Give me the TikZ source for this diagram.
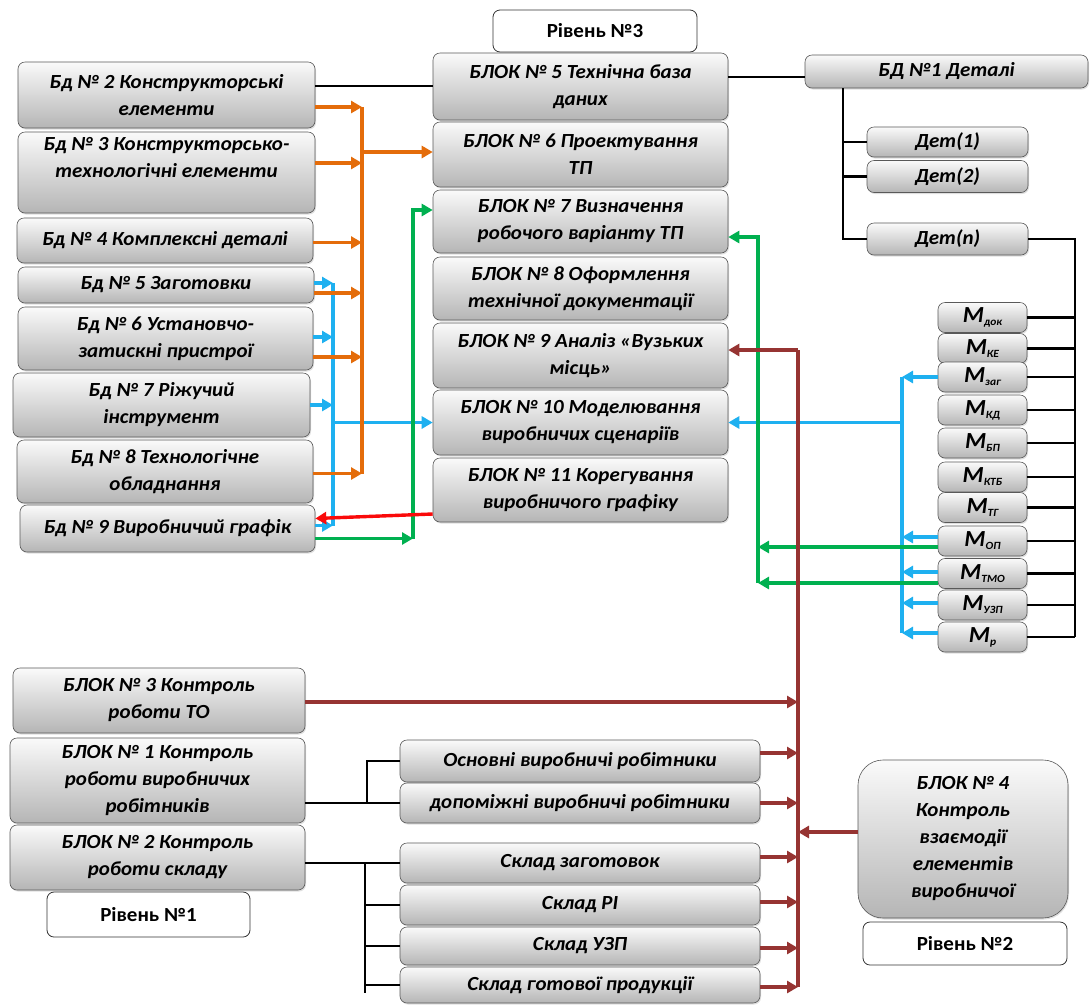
\documentclass[tikz,border=0pt]{standalone}
\usepackage{fontspec}
\setmainfont{Carlito}[FakeStretch=1.05]
\usetikzlibrary{arrows.meta,shadows}
\definecolor{cOr}{RGB}{228,108,10}
\definecolor{cBl}{RGB}{30,176,240}
\definecolor{cGr}{RGB}{0,176,80}
\definecolor{cRd}{RGB}{250,10,10}
\definecolor{cBr}{RGB}{150,52,50}
\begin{document}
\begin{tikzpicture}[x=1pt,y=-1pt,
  box/.style={draw=gray!70!black, line width=0.6pt, rounded corners=7pt,
    top color=gray!4, middle color=gray!22, bottom color=gray!58,
    inner sep=0pt, align=center,
    font=\fontsize{20}{27}\selectfont\bfseries\itshape,
    drop shadow={opacity=0.25,shadow xshift=1pt,shadow yshift=-1.5pt}},
  mbox/.style={box, minimum width=89, minimum height=30,
    font=\fontsize{23}{23}\selectfont\bfseries\itshape},
  lvl/.style={draw=black!80, line width=0.8pt, fill=white, rounded corners=7pt,
    inner sep=0pt, font=\fontsize{20}{24}\selectfont\bfseries},
  tip/.style={-{Triangle[length=11pt,width=12pt]}},
  blk/.style={line width=2.3pt, draw=black},
  orl/.style={line width=3.4pt, draw=cOr},
  ora/.style={orl, tip},
  bll/.style={line width=3.4pt, draw=cBl},
  bla/.style={bll, tip},
  grl/.style={line width=3.4pt, draw=cGr},
  gra/.style={grl, tip},
  rda/.style={line width=3.4pt, draw=cRd, tip},
  brl/.style={line width=3.4pt, draw=cBr},
  bra/.style={brl, tip}]
\newcommand{\msub}[1]{M\raisebox{-3pt}{\fontsize{11}{11}\selectfont #1}}
\fill[white] (0,0) rectangle (1090,1005);
\useasboundingbox (0,0) rectangle (1090,1005);

% bus coordinates
\coordinate (obus) at (362,0);
\coordinate (bbus) at (333,0);
\coordinate (gbus) at (413,0);
\coordinate (rbus) at (798,0);
\coordinate (bbus2) at (902,0);
\coordinate (gbus2) at (758,0);
\coordinate (kbus) at (1075,0);
\coordinate (dbus) at (843,0);
\coordinate (lbus1) at (367,0);
\coordinate (lbus2) at (365,0);

% left column
\node[box, minimum width=297, minimum height=66] (b2) at (166.5,95) {Бд № 2 Конструкторські\\елементи};
\node[box, minimum width=297, minimum height=81] (b3) at (166.5,172.5) {Бд № 3 Конструкторсько-\\технологічні елементи\\[4pt]};
\node[box, minimum width=296, minimum height=45] (b4) at (165,240.5) {Бд № 4 Комплексні деталі};
\node[box, minimum width=296, minimum height=36] (b5) at (166,285) {Бд № 5 Заготовки};
\node[box, minimum width=295, minimum height=63] (b6) at (165.5,338.5) {Бд № 6 Установчо-\\затискні пристрої};
\node[box, minimum width=297, minimum height=64] (b7) at (161.5,405) {Бд № 7 Ріжучий\\інструмент};
\node[box, minimum width=296, minimum height=63] (b8) at (165,471.5) {Бд № 8 Технологічне\\обладнання};
\node[box, minimum width=295, minimum height=47] (b9) at (167.5,528.5) {Бд № 9 Виробничий графік};

% middle column
\node[lvl, minimum width=204, minimum height=42] (lvl3) at (595,31) {Рівень №3};
\node[box, minimum width=295, minimum height=67] (k5) at (580.5,86.5) {БЛОК № 5 Технічна база\\даних};
\node[box, minimum width=295, minimum height=65] (k6) at (580.5,154.5) {БЛОК № 6 Проектування\\ТП};
\node[box, minimum width=295, minimum height=63] (k7) at (580.5,221.5) {БЛОК № 7 Визначення\\робочого варіанту ТП};
\node[box, minimum width=295, minimum height=63] (k8) at (580.5,288.5) {БЛОК № 8 Оформлення\\технічної документації};
\node[box, minimum width=295, minimum height=65] (k9) at (580.5,355.5) {БЛОК № 9 Аналіз «Вузьких\\місць»};
\node[box, minimum width=295, minimum height=65] (k10) at (580.5,422.5) {БЛОК № 10 Моделювання\\виробничих сценаріїв};
\node[box, minimum width=295, minimum height=64] (k11) at (580.5,490) {БЛОК № 11 Корегування\\виробничого графіку};

% right
\node[box, minimum width=283, minimum height=33] (bd1) at (946.5,71.5) {БД №1 Деталі};
\node[box, minimum width=161, minimum height=30] (d1) at (947.5,142) {Дет(1)};
\node[box, minimum width=161, minimum height=32] (d2) at (947.5,176.5) {Дет(2)};
\node[box, minimum width=161, minimum height=32] (dn) at (947.5,239) {Дет(n)};

\node[mbox] (mdok) at (982.5,317.5) {\msub{док}};
\node[mbox] (mke) at (982.5,348.5) {\msub{КЕ}};
\node[mbox] (mzag) at (982.5,377) {\msub{заг}};
\node[mbox] (mkd) at (982.5,410) {\msub{КД}};
\node[mbox] (mbp) at (982.5,443) {\msub{БП}};
\node[mbox] (mktb) at (982.5,477) {\msub{КТБ}};
\node[mbox] (mtg) at (982.5,507.5) {\msub{ТГ}};
\node[mbox] (mop) at (982.5,541) {\msub{ОП}};
\node[mbox] (mtmo) at (982.5,573.5) {\msub{ТМО}};
\node[mbox] (muzp) at (982.5,605) {\msub{УЗП}};
\node[mbox] (mr) at (982.5,637) {\msub{р}};

% lower left
\node[box, minimum width=292, minimum height=65] (k3) at (159,700.5) {БЛОК № 3 Контроль\\роботи ТО};
\node[box, minimum width=295, minimum height=85] (k1) at (157.5,780.5) {БЛОК № 1 Контроль\\роботи виробничих\\робітників};
\node[box, minimum width=295, minimum height=65] (k2) at (157.5,857.5) {БЛОК № 2 Контроль\\роботи складу};
\node[lvl, minimum width=203, minimum height=45] (lvl1) at (148.5,914.5) {Рівень №1};

% lower middle
\node[box, minimum width=360, minimum height=42] (w1) at (580,761) {Основні виробничі робітники};
\node[box, minimum width=360, minimum height=40] (w2) at (580,803) {допоміжні виробничі робітники};
\node[box, minimum width=360, minimum height=40] (s1) at (580,863) {Склад заготовок};
\node[box, minimum width=360, minimum height=40] (s2) at (580,905) {Склад РІ};
\node[box, minimum width=360, minimum height=38] (s3) at (580,946) {Склад УЗП};
\node[box, minimum width=360, minimum height=36] (s4) at (580,985) {Склад готової продукції};

% lower right
\node[box, rounded corners=25pt, minimum width=210, minimum height=158] (k4) at (963,839) {БЛОК № 4\\Контроль\\взаємодії\\елементів\\виробничої};
\node[lvl, minimum width=204, minimum height=43] (lvl2) at (965,943.5) {Рівень №2};

% ---- black connectors
\draw[blk] ([yshift=9pt]b2.east) -- ([yshift=9pt]b2.east -| k5.west);
\draw[blk] ([yshift=9.5pt]k5.east) -- ([yshift=9.5pt]k5.east -| bd1.west);
\draw[blk] (bd1.south -| dbus) -- (dn.west -| dbus) -- (dn.west);
\draw[blk] (d1.west -| dbus) -- (d1.west);
\draw[blk] (d2.west -| dbus) -- (d2.west);
\draw[blk] (dn.east) -- (dn.east -| kbus) -- (mr.east -| kbus);
\foreach \m in {mdok,mke,mzag,mkd,mbp,mktb,mtg,mop,mtmo,muzp,mr}
  \draw[blk] (\m.east) -- (\m.east -| kbus);
\draw[blk] ([yshift=-22.5pt]k1.east) -- (w2.west);
\draw[blk] (w1.west) -| (w2.west -| lbus1);
\draw[blk] ([yshift=-5.5pt]k2.east) -- (s1.west);
\draw[blk] (s1.west -| lbus2) -- ([yshift=-8pt]s4.west -| lbus2);
\foreach \s in {s2,s3,s4}
  \draw[blk] (\s.west -| lbus2) -- (\s.west);

% ---- blue left
\draw[bll] ([yshift=2pt]b5.east -| bbus) -- ([yshift=3pt]b9.east -| bbus);
\draw[bla] ([yshift=2pt]b5.east) -- ([yshift=2pt]b5.east -| bbus);
\draw[bla] ([yshift=1.5pt]b6.east) -- ([yshift=1.5pt]b6.east -| bbus);
\draw[bla] (b7.east) -- (b7.east -| bbus);
\draw[bla] ([yshift=3pt]b9.east) -- ([yshift=3pt]b9.east -| bbus);
\draw[bla] (k10.west -| bbus) -- (k10.west);

% ---- orange
\draw[orl] ([yshift=-12pt]b2.east -| obus) -- ([yshift=-2pt]b8.east -| obus);
\draw[ora] ([yshift=-12pt]b2.east) -- ([yshift=-12pt]b2.east -| obus);
\draw[ora] ([yshift=9.5pt]b3.east) -- ([yshift=9.5pt]b3.east -| obus);
\draw[ora] ([yshift=-2pt]b4.east) -- ([yshift=-2pt]b4.east -| obus);
\draw[ora] ([yshift=-8pt]b5.east) -- ([yshift=-8pt]b5.east -| obus);
\draw[ora] ([yshift=-18.5pt]b6.east) -- ([yshift=-18.5pt]b6.east -| obus);
\draw[ora] ([yshift=-2pt]b8.east) -- ([yshift=-2pt]b8.east -| obus);
\draw[ora] ([yshift=2.5pt]k6.west -| obus) -- ([yshift=2.5pt]k6.west);

% ---- green left
\draw[gra] ([yshift=-10pt]b9.east) -- ([yshift=-10pt]b9.east -| gbus);
\draw[gra] ([yshift=-10pt]b9.east -| gbus) -- ([yshift=11.5pt]k7.west -| gbus) -- ([yshift=11.5pt]k7.west);

% ---- red
\draw[rda] ([yshift=-24pt]k11.west) -- ([yshift=10pt]b9.east);

% ---- blue right
\draw[bll] (mzag.west -| bbus2) -- ([yshift=4pt]mr.west -| bbus2);
\draw[bla] (mzag.west) -- (mzag.west -| bbus2);
\draw[bla] ([yshift=4pt]mop.west) -- ([yshift=4pt]mop.west -| bbus2);
\draw[bla] ([yshift=1.5pt]mtmo.west) -- ([yshift=1.5pt]mtmo.west -| bbus2);
\draw[bla] ([yshift=2pt]muzp.west) -- ([yshift=2pt]muzp.west -| bbus2);
\draw[bla] ([yshift=4pt]mr.west) -- ([yshift=4pt]mr.west -| bbus2);
\draw[bla] (k10.east -| bbus2) -- (k10.east);

% ---- green right
\draw[gra] ([yshift=-6pt]mop.west) -- ([yshift=-6pt]mop.west -| gbus2);
\draw[gra] ([yshift=-9.5pt]mtmo.west) -- ([yshift=-9.5pt]mtmo.west -| gbus2);
\draw[gra] ([yshift=-9.5pt]mtmo.west -| gbus2) -- ([yshift=-15.5pt]k7.east -| gbus2) -- ([yshift=-15.5pt]k7.east);

% ---- brown
\draw[brl] ([yshift=5.5pt]k9.east -| rbus) -- ([yshift=-2pt]s4.east -| rbus);
\draw[bra] ([yshift=5.5pt]k9.east -| rbus) -- ([yshift=5.5pt]k9.east);
\draw[bra] ([yshift=-1.5pt]k3.east) -- ([yshift=-1.5pt]k3.east -| rbus);
\draw[bra] ([yshift=8pt]w1.east) -- ([yshift=8pt]w1.east -| rbus);
\draw[bra] (w2.east) -- (w2.east -| rbus);
\draw[bra] ([yshift=6pt]s1.east) -- ([yshift=6pt]s1.east -| rbus);
\draw[bra] ([yshift=3pt]s2.east) -- ([yshift=3pt]s2.east -| rbus);
\draw[bra] ([yshift=-2pt]s3.east) -- ([yshift=-2pt]s3.east -| rbus);
\draw[bra] ([yshift=-2pt]s4.east) -- ([yshift=-2pt]s4.east -| rbus);
\draw[bra] ([yshift=7pt]k4.west) -- ([yshift=7pt]k4.west -| rbus);
\end{tikzpicture}
\end{document}
